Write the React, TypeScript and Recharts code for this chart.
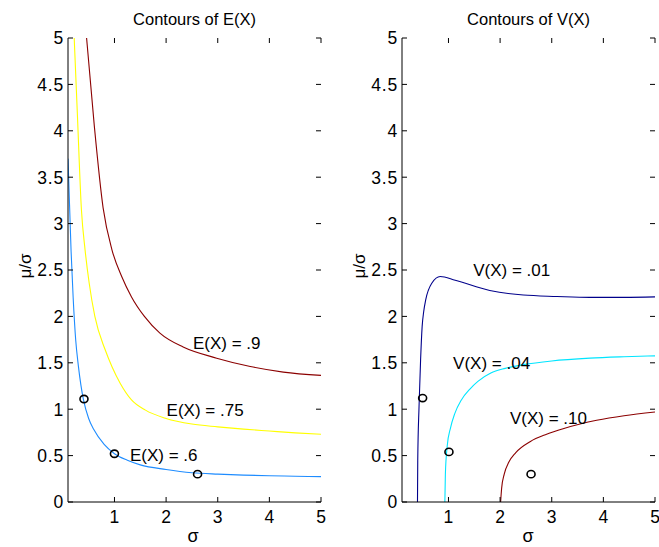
import React from 'react';
import { ComposedChart, Line, Scatter, XAxis, YAxis } from 'recharts';

const FONT = '"Liberation Sans", Arial, Helvetica, sans-serif';

const xTicks = [1, 2, 3, 4, 5];
const yTicks = [0, 0.5, 1, 1.5, 2, 2.5, 3, 3.5, 4, 4.5, 5];

// Contours of E(X)
const e06Sigma = [0.1, 0.13, 0.16, 0.2, 0.25, 0.3, 0.35, 0.4, 0.5, 0.6, 0.8, 1, 1.25, 1.5, 2, 2.5, 3, 3.5, 4, 4.5, 5];
const e06Value = [3.7, 3.2, 2.7, 2.2, 1.74, 1.47, 1.26, 1.1, 0.9, 0.78, 0.62, 0.52, 0.45, 0.4, 0.35, 0.315, 0.3, 0.29, 0.283, 0.278, 0.273];

const e075Sigma = [0.22, 0.28, 0.36, 0.43, 0.51, 0.62, 0.82, 0.95, 1.11, 1.33, 1.6, 2, 2.5, 3, 3.5, 4, 4.5, 5];
const e075Value = [5, 4.2, 3.15, 2.72, 2.36, 2.0, 1.64, 1.46, 1.28, 1.1, 0.99, 0.9, 0.84, 0.81, 0.785, 0.765, 0.745, 0.73];

const e09Sigma = [0.46, 0.61, 0.78, 0.95, 1.14, 1.33, 1.58, 1.88, 2.33, 2.98, 3.63, 4.27, 5];
const e09Value = [5, 4.05, 3.17, 2.72, 2.43, 2.21, 2.0, 1.82, 1.67, 1.55, 1.46, 1.4, 1.365];

const eMarkSigma = [0.39, 0.98, 2.59];
const eMarkValue = [1.11, 0.52, 0.3];

const eLabelText = ['E(X) = .9', 'E(X) = .75', 'E(X) = .6'];
const eLabelSigma = [2.52, 2.01, 1.3];
const eLabelValue = [1.71, 0.99, 0.5];

// Contours of V(X)
const v01Sigma = [0.4, 0.405, 0.43, 0.46, 0.49, 0.52, 0.56, 0.68, 0.84, 1.13, 1.8, 2.45, 3.1, 3.74, 4.4, 5];
const v01Value = [0, 0.45, 1.03, 1.53, 1.89, 2.05, 2.18, 2.36, 2.43, 2.39, 2.28, 2.23, 2.215, 2.205, 2.205, 2.21];

const v04Sigma = [0.93, 0.94, 0.975, 1.04, 1.12, 1.25, 1.42, 1.57, 1.82, 2.1, 2.45, 3.0, 3.74, 4.4, 5];
const v04Value = [0, 0.3, 0.6, 0.8, 0.95, 1.1, 1.22, 1.3, 1.39, 1.44, 1.48, 1.52, 1.55, 1.565, 1.575];

const v10Sigma = [2.01, 2.03, 2.08, 2.17, 2.3, 2.58, 2.9, 3.22, 3.55, 3.87, 4.4, 5];
const v10Value = [0, 0.15, 0.3, 0.43, 0.53, 0.65, 0.73, 0.79, 0.84, 0.88, 0.93, 0.97];

const vMarkSigma = [0.48, 0.99, 2.58];
const vMarkValue = [1.12, 0.54, 0.3];

const vLabelText = ['V(X) = .01', 'V(X) = .04', 'V(X) = .10'];
const vLabelSigma = [1.48, 1.09, 2.19];
const vLabelValue = [2.5, 1.49, 0.9];

const pts = (s: number[], v: number[]) => s.map((x, i) => ({ s: x, v: v[i] }));
const lbls = (s: number[], v: number[], t: string[]) => s.map((x, i) => ({ s: x, v: v[i], t: t[i] }));

type Curve = { data: { s: number; v: number }[]; color: string };

const PLOT_TOP = 38;
const PLOT_BOTTOM = 502;
const TICK_LEN = 5;

const MarkShape = (p: any) => (
  <ellipse cx={p.cx + 1} cy={p.cy} rx={4} ry={3.6} fill="none" stroke="#000" strokeWidth={1.6} />
);

const LabelShape = (p: any) => (
  <text x={p.cx} y={p.cy} dominantBaseline="central" fontFamily={FONT} fontSize={17} fill="#000">
    {p.payload.t}
  </text>
);

function Panel(props: {
  width: number;
  left: number;
  right: number;
  curves: Curve[];
  marks: { s: number; v: number }[];
  labels: { s: number; v: number; t: string }[];
}) {
  const plotLeft = props.left + 60;
  const plotRight = props.width - props.right;
  const axisStyle = { stroke: '#000', strokeWidth: 1 };

  const BottomTick = (p: any) => (
    <g>
      <line x1={p.x} x2={p.x} y1={PLOT_BOTTOM} y2={PLOT_BOTTOM - TICK_LEN} stroke="#000" />
      <line x1={p.x} x2={p.x} y1={PLOT_TOP} y2={PLOT_TOP + TICK_LEN} stroke="#000" />
      <text x={p.x} y={523} textAnchor="middle" fontFamily={FONT} fontSize={17.5} fill="#000">
        {p.payload.value}
      </text>
    </g>
  );

  const LeftTick = (p: any) => (
    <g>
      <line x1={plotLeft} x2={plotLeft + TICK_LEN} y1={p.y} y2={p.y} stroke="#000" />
      <line x1={plotRight} x2={plotRight - TICK_LEN} y1={p.y} y2={p.y} stroke="#000" />
      <text
        x={plotLeft - 4}
        y={p.y + 6.3}
        textAnchor="end"
        fontFamily={FONT}
        fontSize={17.5}
        letterSpacing={0.8}
        fill="#000"
      >
        {p.payload.value}
      </text>
    </g>
  );

  return (
    <ComposedChart
      width={props.width}
      height={547}
      margin={{ top: PLOT_TOP, right: props.right, bottom: 15, left: props.left }}
    >
      <XAxis
        xAxisId="b"
        type="number"
        dataKey="s"
        domain={[0.1, 5]}
        ticks={xTicks}
        interval={0}
        allowDataOverflow
        orientation="bottom"
        height={30}
        tickLine={false}
        tick={BottomTick}
        axisLine={axisStyle}
      />
      <XAxis
        xAxisId="t"
        type="number"
        dataKey="s"
        domain={[0.1, 5]}
        ticks={xTicks}
        allowDataOverflow
        orientation="top"
        height={0}
        tick={false}
        tickLine={false}
        axisLine={axisStyle}
      />
      <YAxis
        yAxisId="l"
        type="number"
        dataKey="v"
        domain={[0, 5]}
        ticks={yTicks}
        interval={0}
        allowDataOverflow
        orientation="left"
        width={60}
        tickLine={false}
        tick={LeftTick}
        axisLine={axisStyle}
      />
      <YAxis
        yAxisId="r"
        type="number"
        dataKey="v"
        domain={[0, 5]}
        ticks={yTicks}
        allowDataOverflow
        orientation="right"
        width={0}
        tick={false}
        tickLine={false}
        axisLine={axisStyle}
      />
      {props.curves.map((c, i) => (
        <Line
          key={i}
          xAxisId="b"
          yAxisId="l"
          data={c.data}
          dataKey="v"
          type="monotoneX"
          stroke={c.color}
          strokeWidth={1.1}
          dot={false}
          activeDot={false}
          isAnimationActive={false}
        />
      ))}
      <Scatter xAxisId="b" yAxisId="l" data={props.marks} dataKey="v" shape={MarkShape} isAnimationActive={false} />
      <Scatter xAxisId="b" yAxisId="l" data={props.labels} dataKey="v" shape={LabelShape} isAnimationActive={false} />
    </ComposedChart>
  );
}

export default function App() {
  return (
    <div style={{ position: 'absolute', left: 0, top: 0, width: 659, height: 547, background: '#fff' }}>
      <div style={{ position: 'absolute', left: 0, top: 0 }}>
        <Panel
          width={330}
          left={8}
          right={9}
          curves={[
            { data: pts(e09Sigma, e09Value), color: '#8b0000' },
            { data: pts(e075Sigma, e075Value), color: '#ffff00' },
            { data: pts(e06Sigma, e06Value), color: '#1e8cff' },
          ]}
          marks={pts(eMarkSigma, eMarkValue)}
          labels={lbls(eLabelSigma, eLabelValue, eLabelText)}
        />
      </div>
      <div style={{ position: 'absolute', left: 330, top: 0 }}>
        <Panel
          width={329}
          left={12}
          right={4}
          curves={[
            { data: pts(v01Sigma, v01Value), color: '#00008b' },
            { data: pts(v04Sigma, v04Value), color: '#00e5ff' },
            { data: pts(v10Sigma, v10Value), color: '#8b0000' },
          ]}
          marks={pts(vMarkSigma, vMarkValue)}
          labels={lbls(vLabelSigma, vLabelValue, vLabelText)}
        />
      </div>
      <svg
        width={659}
        height={547}
        style={{ position: 'absolute', left: 0, top: 0, pointerEvents: 'none' }}
        fontFamily={FONT}
      >
        <text x={194.5} y={25} textAnchor="middle" fontSize={16.5} fill="#000">Contours of E(X)</text>
        <text x={528.5} y={25} textAnchor="middle" fontSize={16.5} fill="#000">Contours of V(X)</text>
        <text x={193} y={542} textAnchor="middle" fontSize={18} fill="#000">σ</text>
        <text x={528} y={542} textAnchor="middle" fontSize={18} fill="#000">σ</text>
        <text x={25} y={266} textAnchor="middle" dominantBaseline="central" fontSize={17} fill="#000" transform="rotate(-90 25 266)">μ/σ</text>
        <text x={359} y={266} textAnchor="middle" dominantBaseline="central" fontSize={17} fill="#000" transform="rotate(-90 359 266)">μ/σ</text>
      </svg>
    </div>
  );
}
